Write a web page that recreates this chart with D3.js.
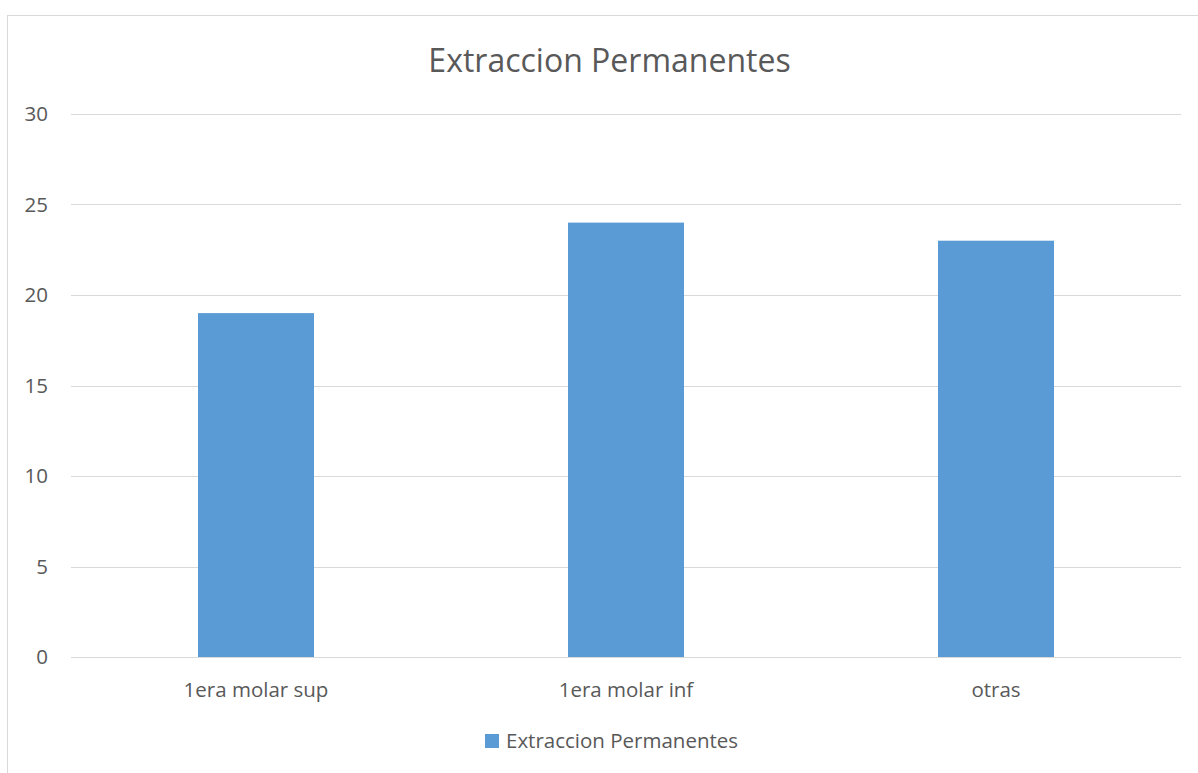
<!DOCTYPE html>
<html><head><meta charset="utf-8">
<script src="https://cdn.jsdelivr.net/npm/d3@7"></script>
<style>body{margin:0;background:#fff;} text{font-family:"Open Sans",sans-serif;fill:#595959;}</style>
</head><body><svg id="c" width="1198" height="773"></svg>
<script>
const categories = ["1era molar sup", "1era molar inf", "otras"];
const values = [19, 24, 23];
const yTicks = [0, 5, 10, 15, 20, 25, 30];
const seriesName = "Extraccion Permanentes";
const title = "Extraccion Permanentes";

const svg = d3.select("#c");
const m = {left: 71, right: 1181, top: 114, bottom: 657};

svg.append("rect").attr("x", 7.5).attr("y", 15.5).attr("width", 1200).attr("height", 800)
  .attr("fill", "#fff").attr("stroke", "#d9d9d9").attr("stroke-width", 1);

const x = d3.scaleBand().domain(categories).range([m.left, m.right])
  .paddingInner(0.6865).paddingOuter(0.6865 / 2);
const y = d3.scaleLinear().domain([0, 30]).range([m.bottom, m.top]);

svg.append("g").selectAll("line").data(yTicks).join("line")
  .attr("x1", m.left).attr("x2", m.right)
  .attr("y1", d => Math.round(y(d)) + 0.5).attr("y2", d => Math.round(y(d)) + 0.5)
  .attr("stroke", "#d9d9d9").attr("stroke-width", 1);

svg.append("g").selectAll("rect").data(values).join("rect")
  .attr("x", (d, i) => x(categories[i])).attr("width", x.bandwidth())
  .attr("y", d => y(d)).attr("height", d => y(0) - y(d))
  .attr("fill", "#5b9bd5");

svg.append("g").selectAll("text").data(yTicks).join("text")
  .attr("x", 48).attr("y", d => y(d)).attr("dy", "0.35em")
  .attr("text-anchor", "end").attr("font-size", 20.5).text(d => d);

svg.append("g").selectAll("text").data(categories).join("text")
  .attr("x", d => x(d) + x.bandwidth() / 2).attr("y", 697)
  .attr("text-anchor", "middle").attr("font-size", 20.5).text(d => d);

svg.append("text").attr("x", 609.5).attr("y", 72).attr("text-anchor", "middle")
  .attr("font-size", 32).text(title);

const lg = svg.append("g");
lg.append("rect").attr("x", 485).attr("y", 734).attr("width", 14).attr("height", 14).attr("fill", "#5b9bd5");
lg.append("text").attr("x", 506).attr("y", 748).attr("font-size", 20.5).text(seriesName);
</script></body></html>
